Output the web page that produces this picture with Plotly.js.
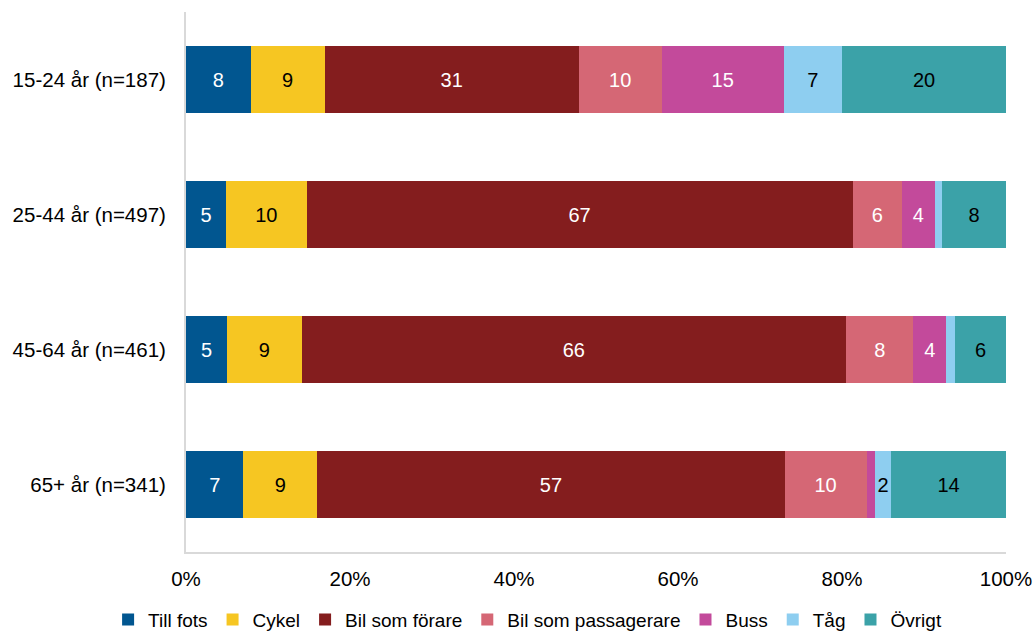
<!DOCTYPE html>
<html>
<head>
<meta charset="utf-8">
<script src="https://cdn.plot.ly/plotly-3.0.1.min.js"></script>
<style>html,body{margin:0;padding:0;background:#fff;}#chart{width:1034px;height:634px;}</style>
</head>
<body>
<div id="chart"></div>
<script>
const categories = ["15-24 år (n=187)", "25-44 år (n=497)", "45-64 år (n=461)", "65+ år (n=341)"];
const seriesNames = ["Till fots", "Cykel", "Bil som förare", "Bil som passagerare", "Buss", "Tåg", "Övrigt"];
const tillFots = [7.9, 4.9, 5.0, 7.0];
const cykel = [9.0, 9.8, 9.1, 9.0];
const bilForare = [31.0, 66.6, 66.4, 57.0];
const bilPassagerare = [10.1, 6.0, 8.2, 10.0];
const buss = [14.9, 4.0, 4.0, 1.0];
const tag = [7.1, 0.9, 1.1, 2.0];
const ovrigt = [20.0, 7.8, 6.2, 14.0];
const tickVals = [0, 20, 40, 60, 80, 100];
const tickText = ["0%", "20%", "40%", "60%", "80%", "100%"];

const colors = ["#015690", "#F6C622", "#841D1E", "#D56775", "#C34A9B", "#8ECEF0", "#3BA2A8"];
const textColors = ["#ffffff", "#000000", "#ffffff", "#ffffff", "#ffffff", "#000000", "#000000"];
const allSeries = [tillFots, cykel, bilForare, bilPassagerare, buss, tag, ovrigt];
const FONT = "Liberation Sans, Arial, sans-serif";

const traces = allSeries.map((vals, i) => ({
  type: "bar",
  orientation: "h",
  name: seriesNames[i],
  y: categories,
  x: vals,
  text: vals.map(v => v >= 1.5 ? String(Math.round(v)) : ""),
  textposition: "inside",
  insidetextanchor: "middle",
  textangle: 0,
  constraintext: "none",
  textfont: {family: FONT, size: 20, color: textColors[i]},
  marker: {color: colors[i], line: {width: 0}},
  hoverinfo: "none"
}));

const layout = {
  width: 1034,
  height: 634,
  barmode: "stack",
  bargap: 0.5,
  margin: {l: 186, r: 28, t: 12, b: 82, autoexpand: false},
  paper_bgcolor: "#ffffff",
  plot_bgcolor: "#ffffff",
  font: {family: FONT, size: 20, color: "#000000"},
  showlegend: true,
  legend: {
    orientation: "h",
    xref: "paper",
    yref: "paper",
    x: -0.095,
    xanchor: "left",
    y: -0.09,
    yanchor: "top",
    font: {family: FONT, size: 19, color: "#000000"},
    itemwidth: 30,
    tracegroupgap: 0,
    traceorder: "normal",
    bgcolor: "rgba(0,0,0,0)"
  },
  xaxis: {
    range: [0, 100],
    tickvals: tickVals,
    ticktext: tickText,
    showgrid: false,
    zeroline: false,
    showline: true,
    linecolor: "#d9d9d9",
    linewidth: 2,
    ticks: "",
    ticklen: 0,
    ticklabelstandoff: 7,
    tickfont: {family: FONT, size: 20.5},
    fixedrange: true
  },
  yaxis: {
    autorange: "reversed",
    showgrid: false,
    zeroline: false,
    showline: true,
    linecolor: "#d9d9d9",
    linewidth: 2,
    ticks: "",
    ticklabelstandoff: 14,
    tickfont: {family: FONT, size: 20.5},
    fixedrange: true
  }
};

Plotly.newPlot("chart", traces, layout, {displayModeBar: false, staticPlot: true});
</script>
</body>
</html>
